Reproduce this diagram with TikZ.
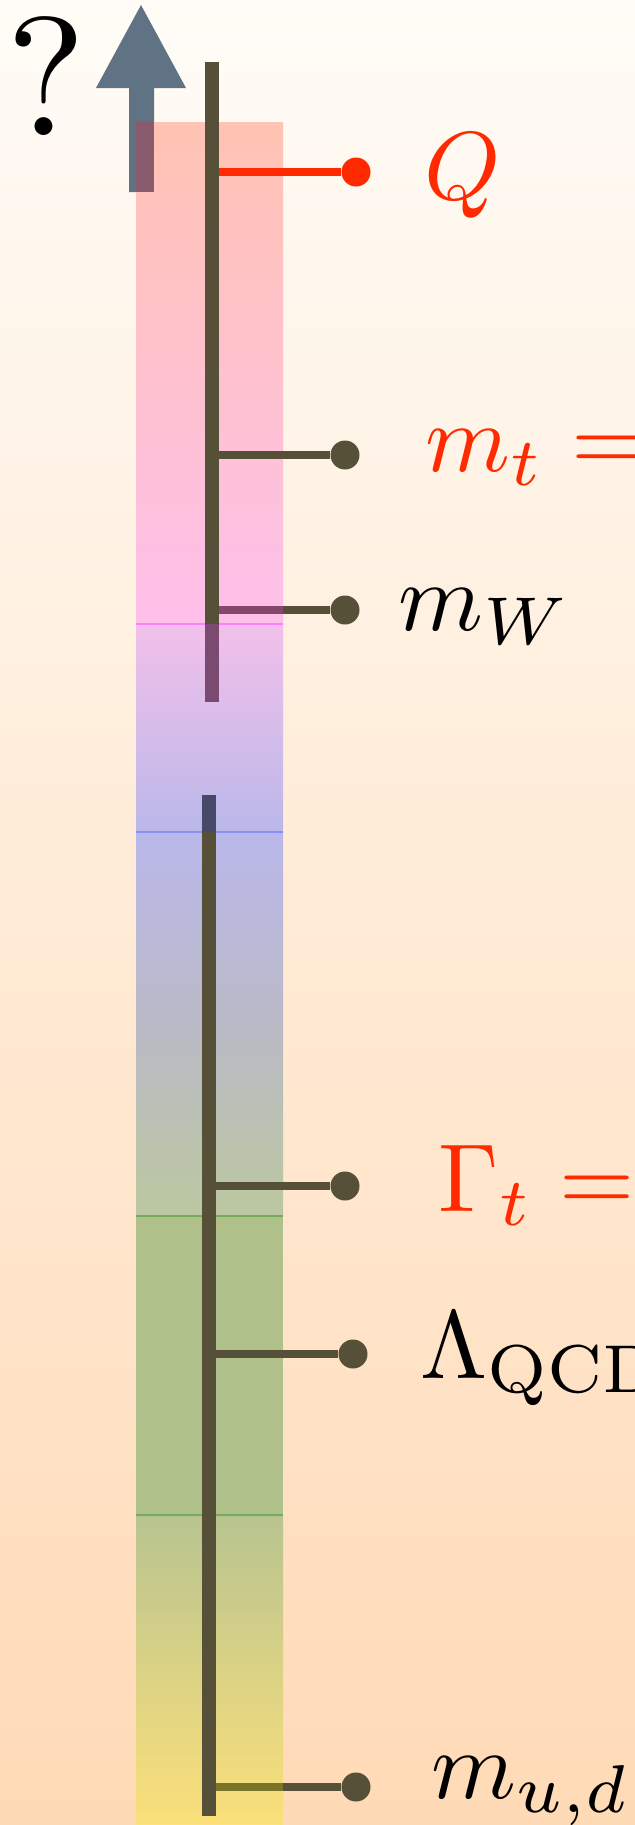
\documentclass[tikz,border=0pt]{standalone}
\usepackage{amsmath}
\usepackage{graphicx}
\usetikzlibrary{calc}
\definecolor{paper}{HTML}{FFFCF7}
\definecolor{peach}{HTML}{FFDAB6}
\definecolor{stem}{HTML}{575038}
\definecolor{hot}{HTML}{FF2A00}
\definecolor{slateup}{HTML}{5F7385}
\definecolor{slatemix}{HTML}{8A5B6C}
\definecolor{plum}{HTML}{7A4A70}
\definecolor{plumtick}{HTML}{84486C}
\definecolor{navy}{HTML}{484868}
\definecolor{mudtick}{HTML}{7A7428}
\definecolor{salmon}{HTML}{FFC3B3}
\definecolor{rose}{HTML}{FEC0EA}
\definecolor{orchid}{HTML}{F2C0EA}
\definecolor{lavender}{HTML}{BAB8EA}
\definecolor{haze}{HTML}{BAB9C6}
\definecolor{sage}{HTML}{BBC8A0}
\definecolor{moss}{HTML}{B0C08A}
\definecolor{olivelight}{HTML}{B8C490}
\definecolor{butter}{HTML}{FCE07A}
\definecolor{pinkline}{HTML}{FF80FF}
\definecolor{blueline}{HTML}{8890F4}
\definecolor{greenline}{HTML}{74AC5C}
\newcommand{\lbl}[1]{\scalebox{2.75}{#1}}

\begin{document}
\begin{tikzpicture}[x=0.1mm,y=-0.1mm,
  bar/.style={stem,line width=1.34mm},
  tick/.style={stem,line width=0.78mm},
  dot/.style={circle,fill=stem,inner sep=0pt,minimum size=2.9mm},
  lab/.style={anchor=base west,inner sep=0pt},
  seam/.style={line width=0.12mm}]
\useasboundingbox (0,0) rectangle (635,1825);
\clip (0,0) rectangle (635,1825);
\shade[top color=paper,bottom color=peach] (0,0) rectangle (635,1825);
\fill[slateup] (141,5) -- (186,88) -- (154,88) -- (154,192) -- (129,192) -- (129,88) -- (96,88) -- cycle;
\shade[top color=salmon,bottom color=rose] (136,122) rectangle (283,624);
\shade[top color=orchid,bottom color=lavender] (136,624) rectangle (283,832);
\shade[top color=lavender,bottom color=sage,middle color=haze] (136,832) rectangle (283,1216);
\fill[moss] (136,1216) rectangle (283,1515);
\shade[top color=olivelight,bottom color=butter] (136,1515) rectangle (283,1825);
\fill[slatemix] (136,122) rectangle (154,192);
\draw[seam,pinkline] (136,624) -- (283,624);
\draw[seam,blueline] (136,832) -- (283,832);
\draw[seam,greenline] (136,1216) -- (283,1216);
\draw[seam,greenline] (136,1515) -- (283,1515);
\coordinate (upTop) at (212,62);
\coordinate (upJoin) at (212,624);
\coordinate (upEnd) at (212,702);
\coordinate (loTop) at (209,795);
\coordinate (loJoin) at (209,832);
\coordinate (loEnd) at (209,1816);
\node[dot,fill=hot] (Qdot) at (356,172) {};
\node[dot] (tdot) at (345,455) {};
\node[dot] (Wdot) at (345,610) {};
\node[dot] (Gdot) at (345,1186) {};
\node[dot] (Ldot) at (353,1354) {};
\node[dot] (udot) at (356,1787) {};
\draw[tick,hot] (Qdot -| upTop) -- (Qdot);
\draw[tick] (tdot -| upTop) -- (tdot);
\draw[tick] (Wdot -| upTop) -- (Wdot);
\draw[tick,plumtick] (Wdot -| upTop) -- ++(71,0);
\draw[tick] (Gdot -| loTop) -- (Gdot);
\draw[tick] (Ldot -| loTop) -- (Ldot);
\draw[tick] (udot -| loTop) -- (udot);
\draw[tick,mudtick] (udot -| loTop) -- ++(74,0);
\draw[bar] (upTop) -- (upJoin);
\draw[bar,plum] (upJoin) -- (upEnd);
\draw[bar,navy] (loTop) -- (loJoin);
\draw[bar] (loJoin) -- (loEnd);
\node[lab,hot] (Qlab) at (424,199) {\lbl{$Q$}};
\node[lab,hot] (tlab) at (425,471) {\lbl{$m_t =$}};
\node[lab] (Wlab) at (398,630) {\lbl{$m_W$}};
\node[lab,hot] (Glab) at (438,1211) {\lbl{$\Gamma_t =$}};
\node[lab] (Llab) at (420,1378) {\lbl{$\Lambda_{\mathrm{QCD}}$}};
\node[lab] (ulab) at (431,1798) {\lbl{$m_{u,d}$}};
\node[lab] (qmark) at (6,135) {\scalebox{4.8}{?}};
\end{tikzpicture}
\end{document}
